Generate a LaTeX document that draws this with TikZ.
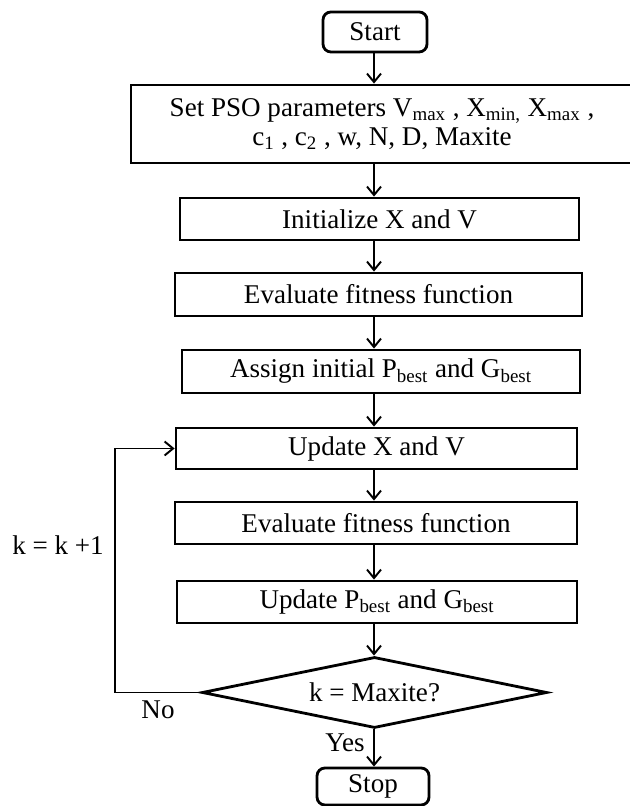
\documentclass[tikz,border=0pt]{standalone}
\usepackage{fontspec}
\setmainfont{Liberation Serif}
\usepackage{tikz}
\usetikzlibrary{shapes.geometric, arrows.meta, positioning}

\tikzset{
    procbox/.style={draw, line width=1.6pt, rectangle, inner sep=0pt, align=center},
    termbox/.style={draw, line width=1.6pt, rectangle, rounded corners=4.5pt, inner sep=0pt},
    decbox/.style={draw, line width=1.6pt, diamond, aspect=4.86, inner sep=0pt,
        minimum width=6.9cm, minimum height=1.42cm},
    arr/.style={line width=1.1pt, -{Straight Barb[length=1.7mm, width=2.8mm, line width=1.1pt]}}
}

\begin{document}
\begin{tikzpicture}[font=\fontsize{15.4}{16.6}\selectfont]
        \useasboundingbox (0,0) rectangle (12.58,16.12);

        % Column of steps
        \node[termbox, minimum width=2.08cm, minimum height=0.80cm] (start) at (7.50,15.48) {Start};
        \node[procbox, minimum width=10.04cm, minimum height=1.56cm] (pso) at (7.64,13.64)
            {Set PSO parameters V\textsubscript{max} , X\textsubscript{min,} X\textsubscript{max} ,\\
             c\textsubscript{1} , c\textsubscript{2} , w, N, D, Maxite};
        \node[procbox, minimum width=7.98cm, minimum height=0.84cm] (init) at (7.59,11.74) {Initialize X and V};
        \node[procbox, minimum width=8.14cm, minimum height=0.86cm] (evalA) at (7.57,10.23) {Evaluate fitness function};
        \node[procbox, minimum width=7.96cm, minimum height=0.86cm] (assign) at (7.62,8.69)
            {Assign initial P\textsubscript{best} and G\textsubscript{best}};
        \node[procbox, minimum width=8.02cm, minimum height=0.82cm] (updXV) at (7.53,7.15) {Update X and V};
        \node[procbox, minimum width=8.04cm, minimum height=0.84cm] (evalB) at (7.52,5.66) {Evaluate fitness function};
        \node[procbox, minimum width=8.00cm, minimum height=0.84cm] (updPG) at (7.54,4.08)
            {Update P\textsubscript{best} and G\textsubscript{best}};
        \node[decbox] (check) at (7.49,2.27) {k = Maxite?};
        \node[termbox, minimum width=2.24cm, minimum height=0.74cm] (stop) at (7.46,0.39) {Stop};

        % Arrows down the column
        \coordinate (axis) at (7.48,0);
        \foreach \a/\b in {start/pso, pso/init, init/evalA, evalA/assign, assign/updXV,
                           updXV/evalB, evalB/updPG, updPG/check, check/stop} {
            \draw[arr] (\a.south -| axis) -- (\b.north -| axis);
        }

        % Loop back
        \coordinate (loop) at (2.30,2.27);
        \draw[arr] (check.west) -- (loop) |- (updXV.west);

        % Labels
        \node (no) at (3.16,1.92) {No};
        \node (yes) at (6.90,1.26) {Yes};
        \node (incr) at (1.16,5.22) {k = k +1};
    \end{tikzpicture}
\end{document}
